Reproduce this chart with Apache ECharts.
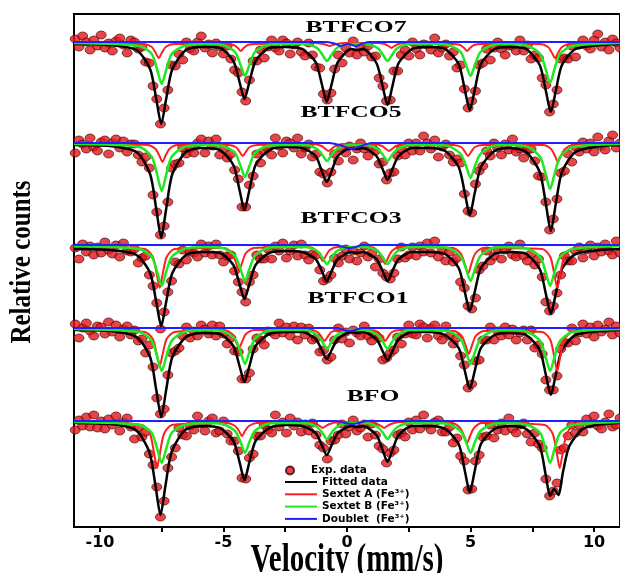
<!DOCTYPE html>
<html><head><meta charset="utf-8">
<script src="https://cdn.jsdelivr.net/npm/echarts@6.0.0/dist/echarts.min.js"></script>
<style>html,body{margin:0;padding:0;background:#fff}#c{width:620px;height:573px}</style>
</head><body><div id="c"></div>
<script>
// Velocity channels (mm/s)
const velocity = [-11.00,-10.85,-10.70,-10.55,-10.40,-10.25,-10.10,-9.95,-9.80,-9.65,-9.50,-9.35,-9.20,-9.05,-8.90,-8.75,-8.60,-8.45,-8.30,-8.15,-8.00,-7.85,-7.70,-7.55,-7.40,-7.25,-7.10,-6.95,-6.80,-6.65,-6.50,-6.35,-6.20,-6.05,-5.90,-5.75,-5.60,-5.45,-5.30,-5.15,-5.00,-4.85,-4.70,-4.55,-4.40,-4.25,-4.10,-3.95,-3.80,-3.65,-3.50,-3.35,-3.20,-3.05,-2.90,-2.75,-2.60,-2.45,-2.30,-2.15,-2.00,-1.85,-1.70,-1.55,-1.40,-1.25,-1.10,-0.95,-0.80,-0.65,-0.50,-0.35,-0.20,-0.05,0.10,0.25,0.40,0.55,0.70,0.85,1.00,1.15,1.30,1.45,1.60,1.75,1.90,2.05,2.20,2.35,2.50,2.65,2.80,2.95,3.10,3.25,3.40,3.55,3.70,3.85,4.00,4.15,4.30,4.45,4.60,4.75,4.90,5.05,5.20,5.35,5.50,5.65,5.80,5.95,6.10,6.25,6.40,6.55,6.70,6.85,7.00,7.15,7.30,7.45,7.60,7.75,7.90,8.05,8.20,8.35,8.50,8.65,8.80,8.95,9.10,9.25,9.40,9.55,9.70,9.85,10.00,10.15,10.30,10.45,10.60,10.75,10.90,11.05];

// Experimental relative counts (baseline ~1000)
const expBTFCO7 = [1003,995,1006,1000,992,1002,996,1007,994,999,991,1001,1004,997,989,1002,1000,993,995,980,979,956,943,918,934,952,977,976,988,982,1000,993,991,1000,1006,994,998,989,999,995,988,996,983,972,969,950,941,962,981,981,992,984,995,1002,994,991,1002,999,988,997,1000,990,986,999,987,975,974,948,942,949,973,987,979,994,989,1001,987,995,990,996,985,986,964,956,941,942,971,971,987,992,986,1000,993,987,998,997,992,1004,989,994,998,986,990,974,977,953,934,941,951,977,979,993,982,994,1000,993,987,996,996,991,1002,991,997,983,987,984,964,957,930,938,952,983,984,983,996,985,997,1002,996,993,1002,1008,995,1000,992,1003,999,994];
const expBTFCO5 = [990,1003,999,994,1005,996,992,1001,1003,989,1000,1004,995,1002,991,999,999,988,981,986,975,948,931,908,917,941,975,979,980,995,989,995,990,1000,1004,990,1002,997,1004,988,994,985,989,973,964,936,936,958,967,989,980,992,995,988,1005,997,990,1002,1000,995,1005,989,995,999,986,989,971,969,960,971,989,982,995,990,997,983,994,1000,994,987,996,992,979,981,963,970,971,987,994,988,1000,992,1000,992,1007,1000,994,1003,986,996,999,988,981,984,980,949,932,930,959,972,977,992,987,1000,995,988,999,993,1004,991,994,985,993,994,982,967,966,941,913,924,944,970,972,989,981,996,991,1001,994,1000,991,1006,997,993,1002,1008,995,1000];
const expBTFCO3 = [997,986,1001,993,999,990,998,992,1003,995,991,1000,988,1002,994,993,996,982,987,989,970,959,942,916,933,953,964,983,981,995,985,993,992,988,1001,992,999,990,1001,990,983,989,990,974,963,953,943,963,970,990,986,986,996,986,999,994,1002,987,994,1000,989,1001,990,985,991,990,975,964,966,970,987,982,989,996,986,994,984,992,999,988,992,978,986,972,968,966,972,986,998,987,990,998,989,999,993,1002,992,1004,988,994,984,993,983,987,963,957,939,936,947,975,979,994,984,989,996,986,995,999,990,988,1001,989,984,991,980,986,968,943,934,939,952,970,989,984,984,994,998,987,995,1000,989,998,993,1001,994,990,1004,992];
const expBTFCO1 = [1004,990,1000,1005,997,992,1002,1001,994,1006,996,1003,991,999,1002,993,998,987,989,975,983,961,930,914,919,953,975,977,980,992,1001,990,997,992,1003,999,994,1003,992,1002,994,984,990,977,976,949,949,955,979,990,988,983,997,996,993,1005,995,1001,992,1002,988,1001,993,1000,988,990,976,978,968,971,988,1000,989,996,985,998,995,992,1002,992,987,993,990,968,970,975,978,991,984,994,1003,994,993,1004,1001,990,1000,1003,992,988,1002,992,984,990,972,963,940,944,967,968,988,988,1001,988,997,992,1001,993,999,988,995,998,988,998,980,983,974,948,938,938,952,979,985,985,1000,987,995,1004,994,1001,991,1003,996,999,1006,993,1002,995];
const expBFO = [991,1001,995,1004,994,1006,993,1000,992,1002,996,1005,990,999,1003,994,982,993,984,989,967,956,934,904,920,953,964,973,993,986,985,995,991,1005,997,990,1000,1003,988,990,1000,987,980,980,970,943,942,963,967,985,985,996,991,988,1006,994,999,988,1003,995,999,989,997,990,998,986,976,973,962,980,981,986,997,987,994,1001,990,993,997,984,997,986,975,972,958,968,971,986,988,984,999,991,1001,992,1006,996,991,999,1001,989,989,994,978,983,965,960,931,932,960,966,984,985,996,983,991,998,990,1003,992,988,996,998,987,979,988,977,973,942,925,930,938,971,973,985,996,988,996,989,1002,997,1005,995,992,999,1007,994,996,1003];

// Fitted (total) curves [velocity, counts]
const fitBTFCO7 = [[-11.05,998],[-9.6,997],[-8.52,992],[-7.97,973],[-7.72,943],[-7.52,918],[-7.32,943],[-7.07,973],[-6.52,992],[-5.85,995],[-5.15,994],[-4.60,981],[-4.35,960],[-4.15,943],[-3.95,960],[-3.70,981],[-3.15,994],[-2.5,995],[-1.82,993],[-1.27,980],[-1.02,958],[-0.82,940],[-0.62,958],[-0.37,980],[0.18,993],[0.41,992],[0.64,993],[1.19,979],[1.44,956],[1.64,937],[1.84,956],[2.09,979],[2.64,993],[3.3,995],[3.97,993],[4.52,978],[4.77,952],[4.97,932],[5.17,952],[5.42,978],[5.97,993],[6.6,995],[7.25,993],[7.80,977],[8.05,951],[8.25,930],[8.45,951],[8.70,977],[9.25,993],[10.3,997],[11.05,998]];
const fitBTFCO5 = [[-11.05,998],[-9.6,997],[-8.52,991],[-7.97,969],[-7.72,934],[-7.52,905],[-7.32,934],[-7.07,969],[-6.52,991],[-5.85,995],[-5.15,993],[-4.60,978],[-4.35,953],[-4.15,933],[-3.95,953],[-3.70,978],[-3.15,993],[-2.5,996],[-1.82,995],[-1.27,987],[-1.02,972],[-0.82,961],[-0.62,972],[-0.37,987],[0.18,995],[0.41,994],[0.64,995],[1.19,987],[1.44,974],[1.64,963],[1.84,974],[2.09,987],[2.64,995],[3.3,995],[3.97,992],[4.52,976],[4.77,950],[4.97,928],[5.17,950],[5.42,976],[5.97,992],[6.6,995],[7.25,991],[7.80,971],[8.05,939],[8.25,912],[8.45,939],[8.70,971],[9.25,991],[10.3,997],[11.05,998]];
const fitBTFCO3 = [[-11.05,996],[-9.6,995],[-8.52,990],[-7.97,972],[-7.72,943],[-7.52,919],[-7.32,943],[-7.07,972],[-6.52,990],[-5.85,993],[-5.15,992],[-4.60,980],[-4.35,961],[-4.15,946],[-3.95,961],[-3.70,980],[-3.15,992],[-2.5,994],[-1.82,993],[-1.27,986],[-1.02,974],[-0.82,964],[-0.62,974],[-0.37,986],[0.18,993],[0.41,992],[0.64,993],[1.19,986],[1.44,974],[1.64,964],[1.84,974],[2.09,986],[2.64,993],[3.3,993],[3.97,991],[4.52,977],[4.77,953],[4.97,934],[5.17,953],[5.42,977],[5.97,991],[6.6,993],[7.25,991],[7.80,976],[8.05,951],[8.25,931],[8.45,951],[8.70,976],[9.25,991],[10.3,995],[11.05,996]];
const fitBTFCO1 = [[-11.05,998],[-9.6,997],[-8.52,991],[-7.97,971],[-7.72,938],[-7.52,911],[-7.32,938],[-7.07,971],[-6.52,991],[-5.85,995],[-5.15,994],[-4.60,982],[-4.35,962],[-4.15,946],[-3.95,962],[-3.70,982],[-3.15,994],[-2.5,996],[-1.82,996],[-1.27,989],[-1.02,978],[-0.82,969],[-0.62,978],[-0.37,989],[0.18,996],[0.41,995],[0.64,996],[1.19,989],[1.44,977],[1.64,968],[1.84,977],[2.09,989],[2.64,996],[3.3,996],[3.97,993],[4.52,980],[4.77,957],[4.97,939],[5.17,957],[5.42,980],[5.97,993],[6.6,995],[7.25,993],[7.80,978],[8.05,953],[8.25,933],[8.45,953],[8.70,978],[9.25,993],[10.3,997],[11.05,998]];
const fitBFO = [[-11.05,998],[-9.6,997],[-8.55,991],[-8.00,969],[-7.75,935],[-7.55,906],[-7.35,935],[-7.10,969],[-6.55,991],[-5.85,995],[-5.15,993],[-4.60,980],[-4.35,959],[-4.15,941],[-3.95,959],[-3.70,980],[-3.15,993],[-2.5,996],[-1.82,995],[-1.27,988],[-1.02,976],[-0.82,966],[-0.62,976],[-0.37,988],[0.18,995],[0.41,994],[0.64,995],[1.19,986],[1.44,971],[1.64,959],[1.84,971],[2.09,986],[2.64,995],[3.3,995],[3.97,992],[4.52,977],[4.77,950],[4.97,929],[5.17,950],[5.42,977],[5.97,992],[6.6,995],[7.25,992],[7.80,975],[8.05,945],[8.22,925],[8.38,932],[8.55,926],[8.75,950],[9.0,975],[9.55,992],[10.3,997],[11.05,998]];

// Sextet A (red)
const sextetA_BTFCO7 = [[-11.05,999],[-8.22,998],[-7.90,995],[-7.74,989],[-7.62,984],[-7.50,989],[-7.34,995],[-7.02,998],[-4.90,998],[-4.58,997],[-4.42,994],[-4.30,991],[-4.18,994],[-4.02,997],[-3.70,998],[-1.30,999],[-0.98,998],[-0.82,997],[-0.70,996],[-0.58,997],[-0.42,998],[-0.10,999],[1.20,999],[1.52,998],[1.68,996],[1.80,994],[1.92,996],[2.08,998],[2.40,999],[4.26,998],[4.58,997],[4.74,994],[4.86,991],[4.98,994],[5.14,997],[5.46,998],[7.82,998],[8.14,995],[8.30,989],[8.42,984],[8.54,989],[8.70,995],[9.02,998],[11.05,999]];
const sextetA_BTFCO5 = [[-11.05,999],[-8.07,998],[-7.75,994],[-7.59,987],[-7.47,981],[-7.35,987],[-7.19,994],[-6.87,998],[-4.82,998],[-4.50,996],[-4.34,991],[-4.22,987],[-4.10,991],[-3.94,996],[-3.62,998],[-1.35,999],[-1.03,997],[-0.87,994],[-0.75,992],[-0.63,994],[-0.47,997],[-0.15,999],[1.10,999],[1.42,997],[1.58,994],[1.70,992],[1.82,994],[1.98,997],[2.30,999],[4.30,998],[4.62,996],[4.78,991],[4.90,987],[5.02,991],[5.18,996],[5.50,998],[7.94,998],[8.26,994],[8.42,987],[8.54,981],[8.66,987],[8.82,994],[9.14,998],[11.05,999]];
const sextetA_BTFCO3 = [[-11.05,999],[-8.18,996],[-7.86,988],[-7.70,971],[-7.58,957],[-7.46,971],[-7.30,988],[-6.98,996],[-4.97,997],[-4.65,992],[-4.49,982],[-4.37,974],[-4.25,982],[-4.09,992],[-3.77,997],[-1.58,998],[-1.26,995],[-1.10,989],[-0.98,984],[-0.86,989],[-0.70,995],[-0.38,998],[0.94,998],[1.26,994],[1.42,987],[1.54,981],[1.66,987],[1.82,994],[2.14,998],[4.30,997],[4.62,991],[4.78,980],[4.90,971],[5.02,980],[5.18,991],[5.50,997],[7.91,996],[8.23,988],[8.39,971],[8.51,957],[8.63,971],[8.79,988],[9.11,996],[11.05,999]];
const sextetA_BTFCO1 = [[-11.05,999],[-8.18,996],[-7.86,989],[-7.70,974],[-7.58,962],[-7.46,974],[-7.30,989],[-6.98,996],[-4.97,998],[-4.65,994],[-4.49,986],[-4.37,980],[-4.25,986],[-4.09,994],[-3.77,998],[-1.51,998],[-1.19,996],[-1.03,991],[-0.91,987],[-0.79,991],[-0.63,996],[-0.31,998],[0.94,998],[1.26,996],[1.42,991],[1.54,987],[1.66,991],[1.82,996],[2.14,998],[4.33,997],[4.65,992],[4.81,982],[4.93,974],[5.05,982],[5.21,992],[5.53,997],[7.91,996],[8.23,988],[8.39,971],[8.51,957],[8.63,971],[8.79,988],[9.11,996],[11.05,999]];
const sextetA_BFO = [[-11.05,999],[-8.29,996],[-7.97,987],[-7.81,968],[-7.69,953],[-7.57,968],[-7.41,987],[-7.09,996],[-4.85,998],[-4.53,995],[-4.37,990],[-4.25,985],[-4.13,990],[-3.97,995],[-3.65,998],[-1.58,999],[-1.26,997],[-1.10,995],[-0.98,993],[-0.86,995],[-0.70,997],[-0.38,999],[0.90,999],[1.22,997],[1.38,995],[1.50,993],[1.62,995],[1.78,997],[2.10,999],[4.26,998],[4.58,993],[4.74,985],[4.86,978],[4.98,985],[5.14,993],[5.46,998],[8.01,996],[8.33,987],[8.49,968],[8.61,953],[8.73,968],[8.89,987],[9.21,996],[11.05,999]];

// Sextet B (green)
const sextetB_BTFCO7 = [[-11.05,999],[-8.40,996],[-7.90,988],[-7.68,972],[-7.50,958],[-7.32,972],[-7.10,988],[-6.60,996],[-5.8,998],[-5.03,997],[-4.53,990],[-4.31,977],[-4.13,966],[-3.95,977],[-3.73,990],[-3.23,997],[-2.5,998],[-1.71,998],[-1.21,994],[-0.99,987],[-0.81,981],[-0.63,987],[-0.41,994],[0.09,998],[0.74,998],[1.24,994],[1.46,987],[1.64,981],[1.82,987],[2.04,994],[2.54,998],[3.3,998],[4.10,997],[4.60,990],[4.82,977],[5.00,966],[5.18,977],[5.40,990],[5.90,997],[6.6,998],[7.32,996],[7.82,988],[8.04,973],[8.22,959],[8.40,973],[8.62,988],[9.12,996],[11.05,999]];
const sextetB_BTFCO5 = [[-11.05,999],[-8.40,996],[-7.90,986],[-7.68,968],[-7.50,952],[-7.32,968],[-7.10,986],[-6.60,996],[-5.8,998],[-5.03,997],[-4.53,990],[-4.31,977],[-4.13,966],[-3.95,977],[-3.73,990],[-3.23,997],[-2.5,998],[-1.71,998],[-1.21,994],[-0.99,988],[-0.81,982],[-0.63,988],[-0.41,994],[0.09,998],[0.74,998],[1.24,994],[1.46,988],[1.64,982],[1.82,988],[2.04,994],[2.54,998],[3.3,998],[4.10,997],[4.60,989],[4.82,977],[5.00,965],[5.18,977],[5.40,989],[5.90,997],[6.6,998],[7.32,996],[7.82,986],[8.04,969],[8.22,954],[8.40,969],[8.62,986],[9.12,996],[11.05,999]];
const sextetB_BTFCO3 = [[-11.05,999],[-8.40,996],[-7.90,988],[-7.68,973],[-7.50,959],[-7.32,973],[-7.10,988],[-6.60,996],[-5.8,998],[-5.03,997],[-4.53,989],[-4.31,976],[-4.13,964],[-3.95,976],[-3.73,989],[-3.23,997],[-2.5,998],[-1.71,998],[-1.21,994],[-0.99,987],[-0.81,981],[-0.63,987],[-0.41,994],[0.09,998],[0.74,998],[1.24,994],[1.46,987],[1.64,981],[1.82,987],[2.04,994],[2.54,998],[3.3,998],[4.10,997],[4.60,989],[4.82,976],[5.00,964],[5.18,976],[5.40,989],[5.90,997],[6.6,998],[7.32,996],[7.82,988],[8.04,973],[8.22,959],[8.40,973],[8.62,988],[9.12,996],[11.05,999]];
const sextetB_BTFCO1 = [[-11.05,999],[-8.40,996],[-7.90,987],[-7.68,971],[-7.50,957],[-7.32,971],[-7.10,987],[-6.60,996],[-5.8,998],[-5.03,997],[-4.53,989],[-4.31,976],[-4.13,964],[-3.95,976],[-3.73,989],[-3.23,997],[-2.5,998],[-1.71,998],[-1.21,993],[-0.99,986],[-0.81,979],[-0.63,986],[-0.41,993],[0.09,998],[0.74,998],[1.24,993],[1.46,986],[1.64,979],[1.82,986],[2.04,993],[2.54,998],[3.3,998],[4.10,997],[4.60,989],[4.82,976],[5.00,964],[5.18,976],[5.40,989],[5.90,997],[6.6,998],[7.32,996],[7.82,987],[8.04,971],[8.22,957],[8.40,971],[8.62,987],[9.12,996],[11.05,999]];
const sextetB_BFO = [[-11.05,999],[-8.40,996],[-7.90,988],[-7.68,972],[-7.50,958],[-7.32,972],[-7.10,988],[-6.60,996],[-5.8,998],[-5.03,997],[-4.53,990],[-4.31,979],[-4.13,968],[-3.95,979],[-3.73,990],[-3.23,997],[-2.5,998],[-1.71,998],[-1.21,994],[-0.99,988],[-0.81,982],[-0.63,988],[-0.41,994],[0.09,998],[0.74,998],[1.24,994],[1.46,988],[1.64,982],[1.82,988],[2.04,994],[2.54,998],[3.3,998],[4.10,997],[4.60,990],[4.82,979],[5.00,968],[5.18,979],[5.40,990],[5.90,997],[6.6,998],[7.32,996],[7.82,988],[8.04,972],[8.22,958],[8.40,972],[8.62,988],[9.12,996],[11.05,999]];

// Doublet (blue)
const doublet_BTFCO7 = [[-11.05,1000],[-0.8,1000],[-0.45,998],[-0.25,996],[0.05,998],[0.35,996],[0.6,998],[0.9,1000],[11.05,1000]];
const doublet_BTFCO5 = [[-11.05,1000],[-0.7,1000],[-0.3,998],[0.1,995],[0.3,995],[0.7,998],[1.0,1000],[11.05,1000]];
const doublet_BTFCO3 = [[-11.05,1000],[-0.4,1000],[-0.15,998],[0.1,997],[0.35,998],[0.6,1000],[11.05,1000]];
const doublet_BTFCO1 = [[-11.05,1000],[-0.4,1000],[-0.15,998],[0.1,997],[0.35,998],[0.6,1000],[11.05,1000]];
const doublet_BFO = [[-11.05,1000],[-0.4,1000],[-0.1,998],[0.2,997],[0.5,998],[0.8,1000],[11.05,1000]];

const sampleNames = ['BTFCO7','BTFCO5','BTFCO3','BTFCO1','BFO'];
const stackOffsets = [0,-101,-203,-286,-379];
const xTickLabels = [-10,-5,0,5,10];
const xTicks = [-10,-7.5,-5,-2.5,0,2.5,5,7.5,10];
const lineNames = ['Fitted data','Sextet A (Fe³⁺)','Sextet B (Fe³⁺)','Doublet  (Fe³⁺)'];

const expSets = [expBTFCO7,expBTFCO5,expBTFCO3,expBTFCO1,expBFO];
const fitSets = [fitBTFCO7,fitBTFCO5,fitBTFCO3,fitBTFCO1,fitBFO];
const aSets = [sextetA_BTFCO7,sextetA_BTFCO5,sextetA_BTFCO3,sextetA_BTFCO1,sextetA_BFO];
const bSets = [sextetB_BTFCO7,sextetB_BTFCO5,sextetB_BTFCO3,sextetB_BTFCO1,sextetB_BFO];
const dSets = [doublet_BTFCO7,doublet_BTFCO5,doublet_BTFCO3,doublet_BTFCO1,doublet_BFO];

const series = [];
expSets.forEach((arr,k)=>{
  series.push({type:'scatter', name:'Exp. data', silent:true, z:2,
    data: arr.map((y,i)=>[velocity[i], y+stackOffsets[k]]),
    symbol:'circle', symbolSize:[10,8],
    itemStyle:{color:'#e3161b', borderColor:'#3a0000', borderWidth:0.8}});
});
function addLines(name, sets, color, width, z){
  sets.forEach((pts,k)=>{
    series.push({type:'line', name, silent:true, z, symbol:'none', smooth:0.25,
      data: pts.map(p=>[p[0], p[1]+stackOffsets[k]]),
      lineStyle:{color, width}, itemStyle:{color}});
  });
}
addLines(lineNames[0], fitSets, '#000000', 2.5, 3);
addLines(lineNames[1], aSets, '#ff1f1f', 2, 4);
addLines(lineNames[2], bSets, '#1ee81e', 2.5, 5);
addLines(lineNames[3], dSets, '#1f1fff', 2, 6);

const labelPos = [[356,28],[351,113],[351,219],[358,299],[373,397]];
const graphics = sampleNames.map((t,k)=>({type:'text', x:labelPos[k][0], y:labelPos[k][1], scaleX:1.6, z:100,
  style:{text:t, font:'bold 16px "Liberation Serif"', fill:'#000', align:'center', verticalAlign:'middle'}}));
graphics.push({type:'text', x:23, y:262, rotation:Math.PI/2, scaleY:1.15, z:100,
  style:{text:'Relative counts', font:'bold 25px "Liberation Serif"', fill:'#000', align:'center', verticalAlign:'middle'}});
graphics.push({type:'text', x:347, y:540, scaleY:1.4, z:100,
  style:{text:'Velocity (mm/s)', font:'bold 29px "Liberation Serif"', fill:'#000', align:'center', verticalAlign:'top'}});

const legendText = {fontFamily:'DejaVu Sans', fontWeight:'bold', fontSize:10.5, color:'#000', lineHeight:11};
const chart = echarts.init(document.getElementById('c'), null, {renderer:'canvas'});
chart.setOption({
  animation:false,
  backgroundColor:'#fff',
  grid:{left:74, right:-3, top:14, bottom:46, show:true, borderColor:'#000', borderWidth:2, containLabel:false},
  xAxis:{type:'value', min:-11.05, max:11.05,
    axisLine:{show:true, lineStyle:{color:'#000', width:2}},
    axisTick:{show:true, customValues:xTicks, length:5, lineStyle:{color:'#000', width:2}},
    axisLabel:{show:true, customValues:xTickLabels, color:'#000', fontFamily:'DejaVu Sans', fontWeight:'bold', fontSize:16, margin:8},
    splitLine:{show:false}, minorTick:{show:false}},
  yAxis:{type:'value', min:515, max:1028, show:false, splitLine:{show:false}},
  legend:[
    {orient:'vertical', left:280, top:460, itemWidth:32, itemHeight:8, selectedMode:false,
     data:['Exp. data'], textStyle:legendText},
    {orient:'vertical', left:280, top:471.5, itemWidth:32, itemHeight:2, itemGap:1.3, selectedMode:false,
     icon:'rect', data:lineNames, textStyle:legendText}
  ],
  graphic: graphics,
  series
});
</script></body></html>
